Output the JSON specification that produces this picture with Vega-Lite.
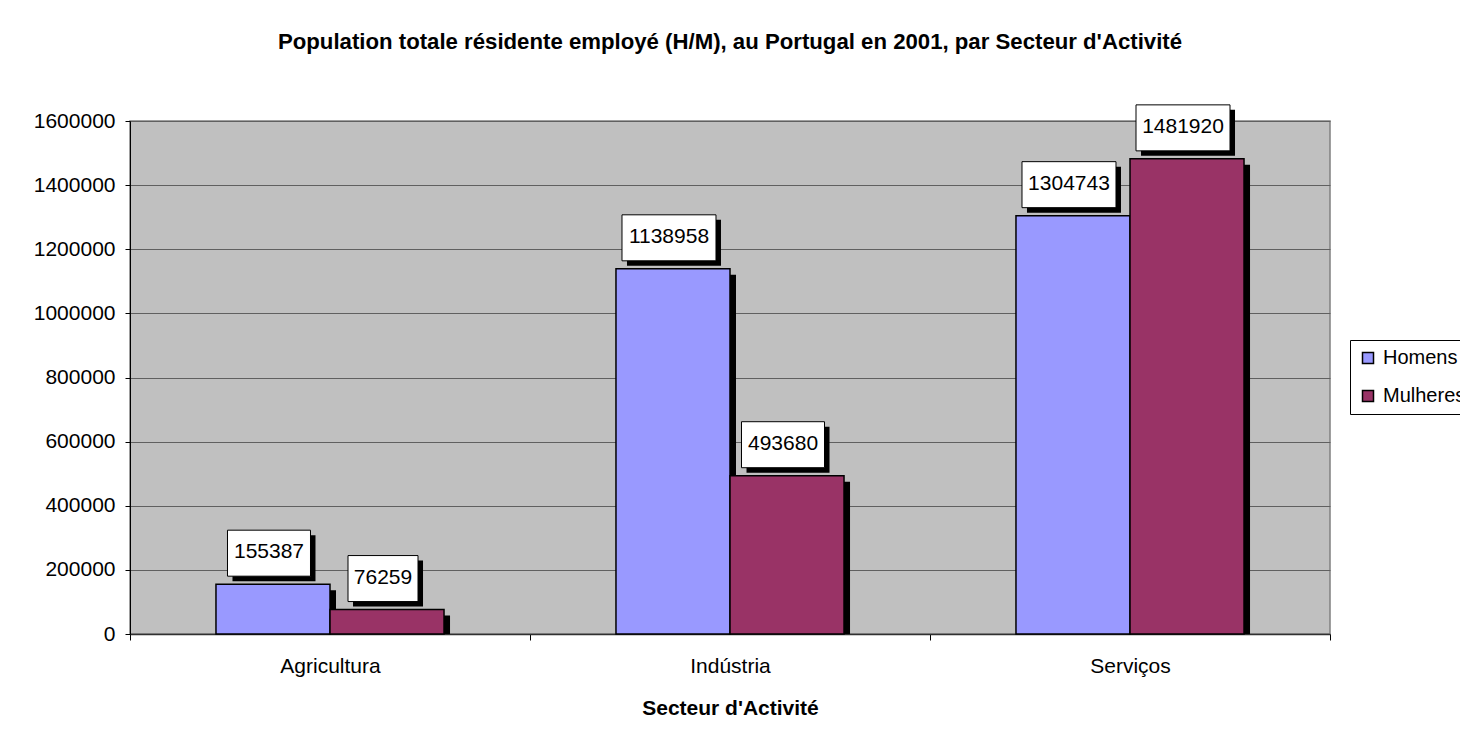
{
  "$schema": "https://vega.github.io/schema/vega-lite/v6.json",
  "width": 1200,
  "height": 513,
  "autosize": {"type": "none"},
  "padding": {"left": 130, "top": 121, "right": 130, "bottom": 110},
  "background": "white",
  "title": {
    "text": "Population totale résidente employé (H/M), au Portugal en 2001, par Secteur d'Activité",
    "font": "Liberation Sans",
    "fontSize": 22.2,
    "fontWeight": "bold",
    "color": "black",
    "anchor": "middle",
    "frame": "group",
    "baseline": "alphabetic",
    "offset": 32
  },
  "data": {
    "values": [
      {"secteur": "Agricultura", "sexe": "Homens", "value": 155387},
      {"secteur": "Agricultura", "sexe": "Mulheres", "value": 76259},
      {"secteur": "Indústria", "sexe": "Homens", "value": 1138958},
      {"secteur": "Indústria", "sexe": "Mulheres", "value": 493680},
      {"secteur": "Serviços", "sexe": "Homens", "value": 1304743},
      {"secteur": "Serviços", "sexe": "Mulheres", "value": 1481920}
    ]
  },
  "encoding": {
    "x": {
      "field": "secteur",
      "type": "nominal",
      "sort": ["Agricultura", "Indústria", "Serviços"],
      "scale": {"type": "band", "paddingInner": 0, "paddingOuter": 0},
      "axis": {
        "title": "Secteur d'Activité",
        "labelAngle": 0,
        "tickBand": "extent",
        "ticks": true,
        "tickSize": 6,
        "tickColor": "black",
        "domainColor": "#303030",
        "domainWidth": 1.5,
        "grid": false,
        "labelFont": "Liberation Sans",
        "labelFontSize": 21,
        "labelColor": "black",
        "labelPadding": 15,
        "titleFont": "Liberation Sans",
        "titleFontSize": 21,
        "titleFontWeight": "bold",
        "titleColor": "black",
        "titlePadding": 21
      }
    },
    "y": {
      "field": "value",
      "type": "quantitative",
      "scale": {"domain": [0, 1600000], "nice": false},
      "axis": {
        "title": null,
        "values": [0, 200000, 400000, 600000, 800000, 1000000, 1200000, 1400000, 1600000],
        "format": "d",
        "grid": true,
        "gridColor": "#606060",
        "gridWidth": 1,
        "tickSize": 5,
        "tickColor": "black",
        "domainColor": "black",
        "labelFont": "Liberation Sans",
        "labelFontSize": 21,
        "labelColor": "black",
        "labelPadding": 10
      }
    }
  },
  "layer": [
    {
      "mark": {"type": "bar", "fill": "black", "yOffset": 6, "clip": true},
      "encoding": {
        "xOffset": {
          "field": "sexe", "type": "nominal", "sort": ["Homens", "Mulheres"],
          "scale": {"type": "band", "paddingInner": 0, "paddingOuter": 0.754, "range": [6, 406]}
        }
      }
    },
    {
      "mark": {"type": "bar", "stroke": "black", "strokeWidth": 1.5},
      "encoding": {
        "xOffset": {
          "field": "sexe", "type": "nominal", "sort": ["Homens", "Mulheres"],
          "scale": {"type": "band", "paddingInner": 0, "paddingOuter": 0.754, "range": [0, 400]}
        },
        "color": {
          "field": "sexe",
          "type": "nominal",
          "scale": {"domain": ["Homens", "Mulheres"], "range": ["#9999FF", "#993366"]},
          "legend": {
            "title": null,
            "orient": "none",
            "legendX": 1220,
            "legendY": 219,
            "padding": 8,
            "strokeColor": "black",
            "fillColor": "white",
            "symbolType": "square",
            "symbolSize": 121,
            "symbolStrokeColor": "black",
            "symbolStrokeWidth": 1.5,
            "labelFont": "Liberation Sans",
            "labelFontSize": 20,
            "labelColor": "black",
            "labelOffset": 5,
            "rowPadding": 18
          }
        }
      }
    },
    {
      "mark": {"type": "point", "filled": true, "fill": "black", "opacity": 1, "strokeWidth": 0, "size": 10000, "yOffset": -26},
      "encoding": {
        "xOffset": {
          "field": "sexe", "type": "nominal", "sort": ["Homens", "Mulheres"],
          "scale": {"type": "band", "paddingInner": 0, "paddingOuter": 0.754, "range": [1, 401]}
        },
        "shape": {
          "field": "value",
          "type": "nominal",
          "legend": null,
          "scale": {
            "domain": [76259, 155387, 493680, 1138958, 1304743, 1481920],
            "range": [
              "M-0.70,-0.46L0.70,-0.46L0.70,0.46L-0.70,0.46Z",
              "M-0.83,-0.46L0.83,-0.46L0.83,0.46L-0.83,0.46Z",
              "M-0.83,-0.46L0.83,-0.46L0.83,0.46L-0.83,0.46Z",
              "M-0.94,-0.46L0.94,-0.46L0.94,0.46L-0.94,0.46Z",
              "M-0.94,-0.46L0.94,-0.46L0.94,0.46L-0.94,0.46Z",
              "M-0.94,-0.46L0.94,-0.46L0.94,0.46L-0.94,0.46Z"
            ]
          }
        }
      }
    },
    {
      "mark": {"type": "point", "filled": true, "fill": "white", "stroke": "black", "strokeWidth": 1, "opacity": 1, "size": 10000, "yOffset": -31},
      "encoding": {
        "xOffset": {
          "field": "sexe", "type": "nominal", "sort": ["Homens", "Mulheres"],
          "scale": {"type": "band", "paddingInner": 0, "paddingOuter": 0.754, "range": [-4, 396]}
        },
        "shape": {
          "field": "value",
          "type": "nominal",
          "legend": null,
          "scale": {
            "domain": [76259, 155387, 493680, 1138958, 1304743, 1481920],
            "range": [
              "M-0.70,-0.46L0.70,-0.46L0.70,0.46L-0.70,0.46Z",
              "M-0.83,-0.46L0.83,-0.46L0.83,0.46L-0.83,0.46Z",
              "M-0.83,-0.46L0.83,-0.46L0.83,0.46L-0.83,0.46Z",
              "M-0.94,-0.46L0.94,-0.46L0.94,0.46L-0.94,0.46Z",
              "M-0.94,-0.46L0.94,-0.46L0.94,0.46L-0.94,0.46Z",
              "M-0.94,-0.46L0.94,-0.46L0.94,0.46L-0.94,0.46Z"
            ]
          }
        }
      }
    },
    {
      "mark": {"type": "text", "font": "Liberation Sans", "fontSize": 21, "color": "black", "baseline": "middle", "align": "center", "yOffset": -32},
      "encoding": {
        "xOffset": {
          "field": "sexe", "type": "nominal", "sort": ["Homens", "Mulheres"],
          "scale": {"type": "band", "paddingInner": 0, "paddingOuter": 0.754, "range": [-4, 396]}
        },
        "text": {"field": "value", "type": "quantitative", "format": "d"}
      }
    }
  ],
  "resolve": {"scale": {"xOffset": "independent", "shape": "independent"}},
  "config": {
    "font": "Liberation Sans",
    "view": {"fill": "#C0C0C0", "stroke": "#808080", "strokeWidth": 1.5}
  }
}
